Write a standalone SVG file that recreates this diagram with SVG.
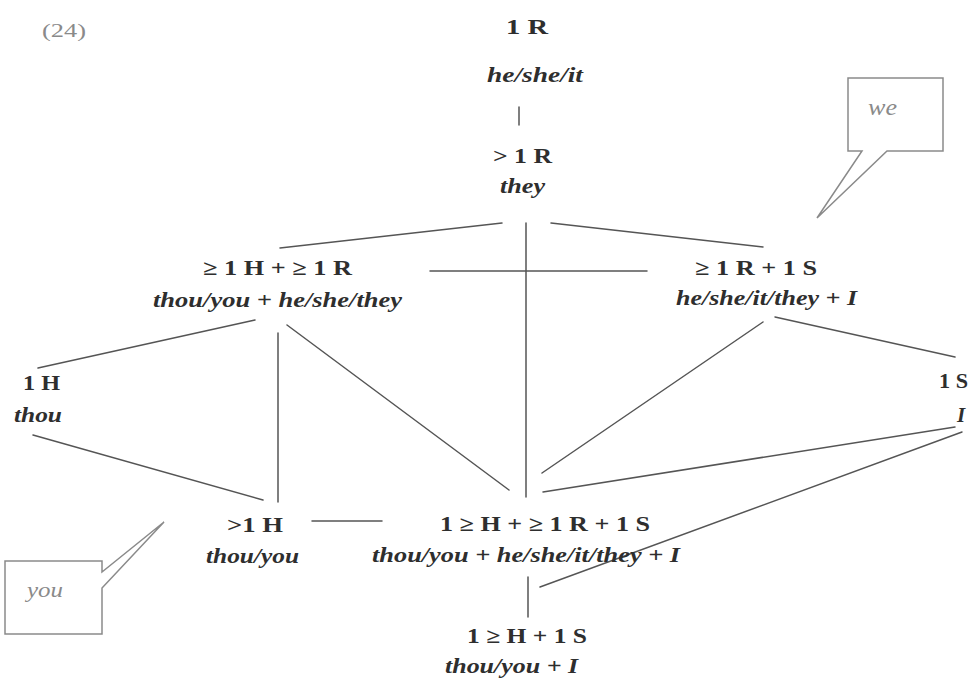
<svg xmlns="http://www.w3.org/2000/svg" width="972" height="680" viewBox="0 0 972 680">
<style>
.lab{font-family:"Liberation Serif","Times New Roman",serif;font-weight:bold;font-size:21px;fill:#2e2e2e}
.it{font-family:"Liberation Serif","Times New Roman",serif;font-weight:bold;font-style:italic;font-size:21px;fill:#2e2e2e}
.gray{font-family:"Liberation Serif","Times New Roman",serif;fill:#8a8a8a}
.ln{stroke:#555;stroke-width:1.5;fill:none;stroke-linecap:round}
.call{stroke:#8a8a8a;stroke-width:1.5;fill:#fff;stroke-linejoin:miter}
</style>
<rect width="972" height="680" fill="#fff"/>
<text class="gray" x="42" y="37" font-size="19" textLength="44" lengthAdjust="spacingAndGlyphs">(24)</text>
<g id="connectors">
<line class="ln" x1="519" y1="107" x2="519" y2="125"/>
<line class="ln" x1="280" y1="248" x2="502" y2="223"/>
<line class="ln" x1="526" y1="223" x2="526" y2="497"/>
<line class="ln" x1="551" y1="223" x2="763" y2="247"/>
<line class="ln" x1="430" y1="271" x2="647" y2="271"/>
<line class="ln" x1="255" y1="320" x2="38" y2="368"/>
<line class="ln" x1="278" y1="333" x2="278" y2="502"/>
<line class="ln" x1="287" y1="325" x2="509" y2="490"/>
<line class="ln" x1="763" y1="322" x2="542" y2="473"/>
<line class="ln" x1="775" y1="317" x2="955" y2="357"/>
<line class="ln" x1="33" y1="435" x2="263" y2="500"/>
<line class="ln" x1="955" y1="427" x2="543" y2="492"/>
<line class="ln" x1="962" y1="432" x2="540" y2="587"/>
<line class="ln" x1="312" y1="521" x2="382" y2="521"/>
<line class="ln" x1="528" y1="577" x2="528" y2="617"/>
</g>
<g id="n1R">
<text class="lab" x="506" y="34" font-size="28" textLength="42" lengthAdjust="spacingAndGlyphs">1 R</text>
<text class="it" x="487" y="82" textLength="96" lengthAdjust="spacingAndGlyphs">he/she/it</text>
</g>
<g id="nGt1R">
<text class="lab" x="493" y="163" textLength="59" lengthAdjust="spacingAndGlyphs">&gt; 1 R</text>
<text class="it" x="500" y="193" textLength="45" lengthAdjust="spacingAndGlyphs">they</text>
</g>
<g id="nHR">
<text class="lab" x="203" y="275" font-size="20" textLength="149" lengthAdjust="spacingAndGlyphs">≥ 1 H + ≥ 1 R</text>
<text class="it" x="153" y="307" textLength="249" lengthAdjust="spacingAndGlyphs">thou/you + he/she/they</text>
</g>
<g id="nRS">
<text class="lab" x="695" y="275" font-size="20" textLength="122" lengthAdjust="spacingAndGlyphs">≥ 1 R + 1 S</text>
<text class="it" x="676" y="305" textLength="181" lengthAdjust="spacingAndGlyphs">he/she/it/they + I</text>
</g>
<g id="n1H">
<text class="lab" x="23" y="390" textLength="37" lengthAdjust="spacingAndGlyphs">1 H</text>
<text class="it" x="14" y="422" textLength="48" lengthAdjust="spacingAndGlyphs">thou</text>
</g>
<g id="n1S">
<text class="lab" x="939" y="388" textLength="29" lengthAdjust="spacingAndGlyphs">1 S</text>
<text class="it" x="957" y="422">I</text>
</g>
<g id="nGt1H">
<text class="lab" x="227" y="532" textLength="56" lengthAdjust="spacingAndGlyphs">&gt;1 H</text>
<text class="it" x="206" y="563" textLength="93" lengthAdjust="spacingAndGlyphs">thou/you</text>
</g>
<g id="nHRS">
<text class="lab" x="440" y="531" textLength="210" lengthAdjust="spacingAndGlyphs">1 ≥ H + ≥ 1 R + 1 S</text>
<text class="it" x="372" y="562" textLength="308" lengthAdjust="spacingAndGlyphs">thou/you + he/she/it/they + I</text>
</g>
<g id="nHS">
<text class="lab" x="467" y="643" textLength="120" lengthAdjust="spacingAndGlyphs">1 ≥ H + 1 S</text>
<text class="it" x="445" y="673" textLength="133" lengthAdjust="spacingAndGlyphs">thou/you + I</text>
</g>
<g id="calloutWe">
<path class="call" d="M862,151 H848 V78 H943 V151 H887 L817,218 Z"/>
<text class="gray" x="868" y="115" font-size="24" font-style="italic" textLength="29" lengthAdjust="spacingAndGlyphs">we</text>
</g>
<g id="calloutYou">
<path class="call" d="M102,572 V561 H5 V634 H102 V588 L164,522 Z"/>
<text class="gray" x="27" y="597" font-size="22" font-style="italic" textLength="36" lengthAdjust="spacingAndGlyphs">you</text>
</g>
</svg>
